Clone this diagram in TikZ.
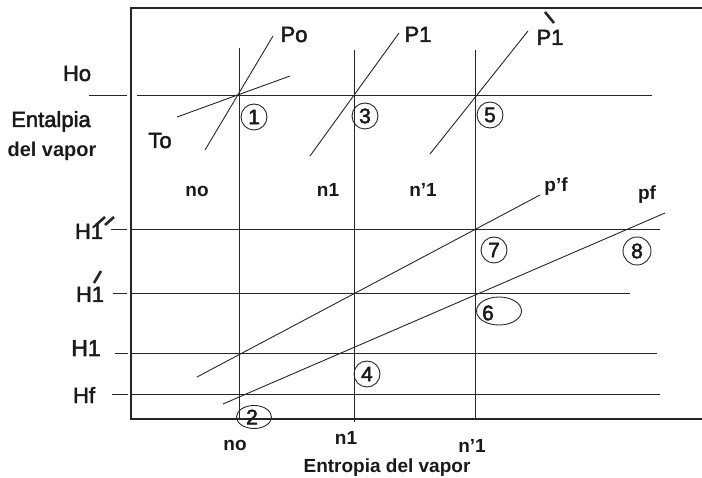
\documentclass[tikz,border=0pt]{standalone}
\usepackage{fontspec}
\setmainfont{Liberation Sans}
\newfontfamily\medfont[FakeBold=2.2]{Liberation Sans}
\usetikzlibrary{shapes.geometric}
\begin{document}
\begin{tikzpicture}[x=1pt,y=-1pt,
  ln/.style={line width=0.9pt, draw=black!85},
  frame/.style={line width=1.3pt, draw=black!85},
  lbl/.style={inner sep=0pt, anchor=base, text=black!90, font=\medfont\fontsize{22}{24}\selectfont},
  blbl/.style={inner sep=0pt, anchor=base, text=black!90, font=\bfseries\fontsize{19}{21}\selectfont},
  num/.style={circle, draw=black!85, line width=0.9pt, inner sep=0pt, minimum size=26pt, text=black!90, font=\medfont\fontsize{21}{23}\selectfont},
  primemark/.style={line width=2.6pt, draw=black!85}
]
\useasboundingbox (0,0) rectangle (702,478);

% frame
\coordinate (TL) at (131,8);
\coordinate (TR) at (702,8);
\coordinate (BL) at (131,419);
\coordinate (BR) at (702,419);
\draw[frame] (TR) -- (TL) -- (BL) -- (BR);

% vertical lines
\coordinate (v1t) at (239,48);  \coordinate (v1b) at (239,419);
\coordinate (v2t) at (354,50);  \coordinate (v2b) at (354,422);
\coordinate (v3t) at (475,50);  \coordinate (v3b) at (475,419);
\draw[ln] (v1t) -- (v1b);
\draw[ln] (v2t) -- (v2b);
\draw[ln] (v3t) -- (v3b);

% horizontal lines with ticks
\coordinate (hoA) at (89,95);  \coordinate (hoB) at (127,95);
\coordinate (hoC) at (137,95); \coordinate (hoD) at (652,95);
\draw[ln] (hoA) -- (hoB);
\draw[ln] (hoC) -- (hoD);

\coordinate (hbA) at (111,229); \coordinate (hbB) at (127,229);
\coordinate (hbC) at (132,229); \coordinate (hbD) at (660,229);
\draw[ln] (hbA) -- (hbB);
\draw[ln] (hbC) -- (hbD);

\coordinate (haA) at (113,293); \coordinate (haB) at (127,293);
\coordinate (haC) at (132,293); \coordinate (haD) at (630,293);
\draw[ln] (haA) -- (haB);
\draw[ln] (haC) -- (haD);

\coordinate (h1A) at (115,353); \coordinate (h1B) at (128,353);
\coordinate (h1C) at (132,353); \coordinate (h1D) at (657,353);
\draw[ln] (h1A) -- (h1B);
\draw[ln] (h1C) -- (h1D);

\coordinate (hfA) at (112,394); \coordinate (hfB) at (128,394);
\coordinate (hfC) at (132,394); \coordinate (hfD) at (660,394);
\draw[ln] (hfA) -- (hfB);
\draw[ln] (hfC) -- (hfD);

% diagonal lines
\coordinate (poA) at (205,150); \coordinate (poB) at (273,36);
\draw[ln] (poA) -- (poB);
\coordinate (toA) at (177,117); \coordinate (toB) at (290,76);
\draw[ln] (toA) -- (toB);
\coordinate (p1A) at (310,156); \coordinate (p1B) at (399,33);
\draw[ln] (p1A) -- (p1B);
\coordinate (p2A) at (430,154); \coordinate (p2B) at (528,31);
\draw[ln] (p2A) -- (p2B);
\coordinate (pfpA) at (197,377); \coordinate (pfpB) at (540,195);
\draw[ln] (pfpA) -- (pfpB);
\coordinate (pfA) at (223,404); \coordinate (pfB) at (665,213);
\draw[ln] (pfA) -- (pfB);

% left labels
\node[lbl] (Ho) at (77,81) {Ho};
\node[lbl] (Ent) at (51,127) {Entalpia};
\node[blbl, font=\bfseries\fontsize{20}{22}\selectfont] (delv) at (52,157) {del vapor};
\node[lbl] (H1pp) at (89,239) {H1};
\node[lbl] (H1p) at (90,302) {H1};
\node[lbl, font=\medfont\fontsize{23}{25}\selectfont] (H1) at (86,356) {H1};
\node[lbl] (Hf) at (84,403) {Hf};

% prime marks
\coordinate (mA1) at (96,225); \coordinate (mA2) at (105,217);
\coordinate (mB1) at (105,225); \coordinate (mB2) at (114,217);
\draw[primemark] (mA1) -- (mA2);
\draw[primemark] (mB1) -- (mB2);
\coordinate (mC1) at (94,283); \coordinate (mC2) at (101,271);
\draw[primemark] (mC1) -- (mC2);
\coordinate (mD1) at (545,12); \coordinate (mD2) at (554,23);
\draw[primemark] (mD1) -- (mD2);

% line labels
\node[lbl] (Po) at (294,42) {Po};
\node[lbl] (P1a) at (418,42) {P1};
\node[lbl] (P1b) at (550,45) {P1};
\node[lbl] (To) at (160,148) {To};
\node[blbl] (no1) at (197,197) {no};
\node[blbl] (n1a) at (328,197) {n1};
\node[blbl] (np1a) at (423,197) {n'1};
\node[blbl] (pfp) at (556,192) {p'f};
\node[blbl] (pf) at (647,200) {pf};

% bottom labels
\node[blbl] (no2) at (235,450) {no};
\node[blbl] (n1b) at (346,445) {n1};
\node[blbl] (np1b) at (472,453) {n'1};
\node[blbl] (ent2) at (387,472) {Entropia del vapor};

% circled numbers
\node[num] (c1) at (254,117) {1};
\node[num] (c3) at (365,116) {3};
\node[num] (c5) at (490,115) {5};
\node[num] (c7) at (494,250) {7};
\node[num, minimum height=28pt] (c8) at (637,251) {8};
\node[num] (c4) at (367,374) {4};
\node[ellipse, draw=black!85, line width=0.9pt, minimum width=35pt, minimum height=23pt, inner sep=0pt] (c2) at (254,417) {};
\node[inner sep=0pt, text=black!90, font=\medfont\fontsize{21}{23}\selectfont] (t2) at (252,417) {2};
\node[ellipse, draw=black!85, line width=0.9pt, minimum width=45pt, minimum height=28pt, inner sep=0pt] (c6) at (499,311) {};
\node[inner sep=0pt, text=black!90, font=\medfont\fontsize{21}{23}\selectfont] (t6) at (488,313) {6};
\end{tikzpicture}
\end{document}
